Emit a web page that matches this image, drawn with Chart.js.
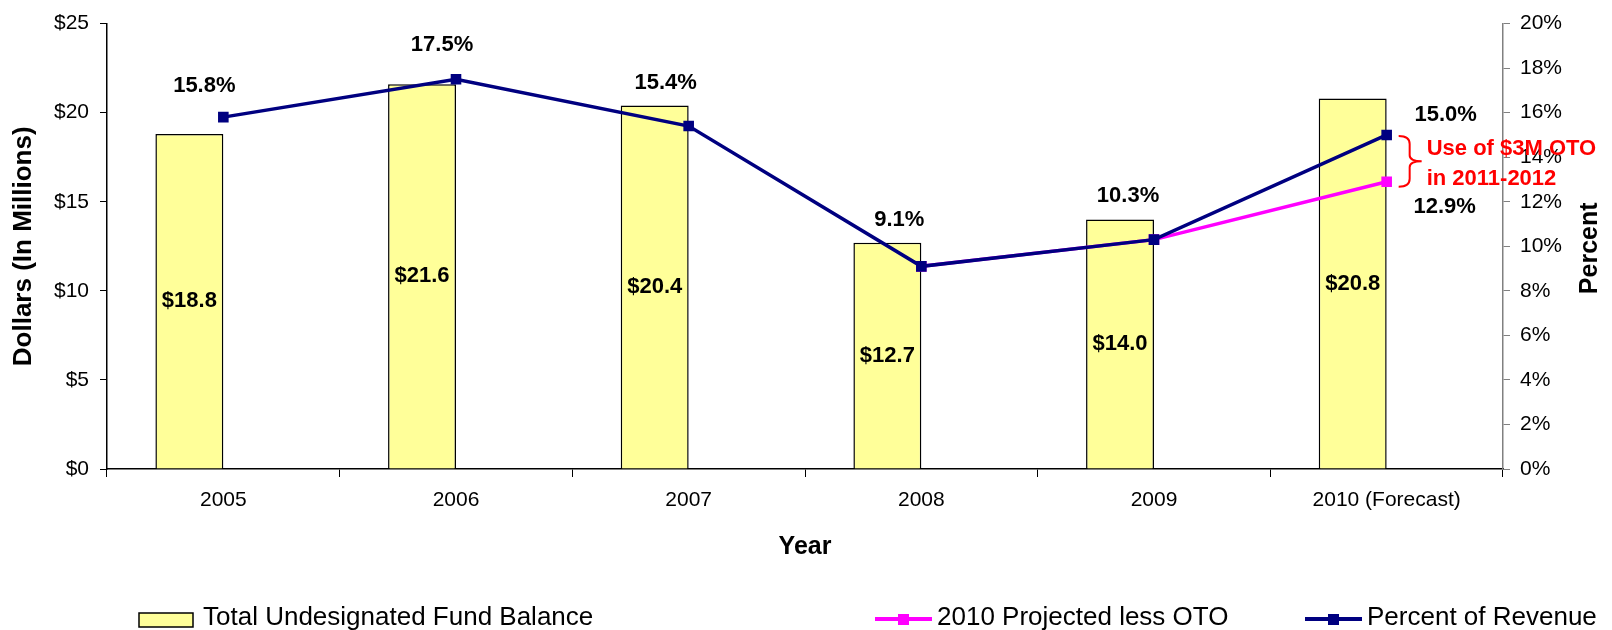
<!DOCTYPE html>
<html lang="en">

<head>
    <meta charset="UTF-8">
    <script src="https://cdn.jsdelivr.net/npm/chart.js"></script>
    <title>Undesignated Fund Balance</title>
    <style>
        body {
            margin: 0;
            background-color: #FFFFFF;
        }

        .chart-container {
            width: 1612px;
            height: 630px;
            position: relative;
        }
    </style>
</head>

<body>
    <div class="chart-container">
        <canvas id="chart_fund"></canvas>
    </div>
    <script>
        const years = ["2005", "2006", "2007", "2008", "2009", "2010 (Forecast)"];
        const fundBalance = [18.8, 21.6, 20.4, 12.7, 14.0, 20.8];
        const percentOfRevenue = [15.8, 17.5, 15.4, 9.1, 10.3, 15.0];
        const projectedLessOTO = [null, null, null, 9.1, 10.3, 12.9];
        const annotationLines = ["Use of $3M OTO", "in 2011-2012"];

        const FONT = "'Liberation Sans', Arial, sans-serif";
        Chart.defaults.font.family = FONT;
        Chart.defaults.color = "#000";

        // label offsets (px) from each point, null = no label
        const revenueLabelOffsets = [[-19, -31], [-14, -34], [-23, -43], [-22, -46], [-26, -44], [59, -20]];
        const projectedLabelOffsets = [null, null, null, null, null, [58, 25]];

        const extras = {
            id: "extras",
            afterDatasetsDraw(chart) {
                const ctx = chart.ctx;
                ctx.save();
                ctx.fillStyle = "#000";
                ctx.textAlign = "center";
                ctx.textBaseline = "middle";
                ctx.font = "bold 22px " + FONT;

                // dollar labels in the middle of each bar
                let barMeta = chart.getDatasetMeta(2);
                barMeta.data.forEach((bar, i) => {
                    let mid = (bar.y + bar.base) / 2;
                    ctx.fillText("$" + fundBalance[i].toFixed(1), bar.x, mid);
                });

                // percent labels
                let pairs = [[0, revenueLabelOffsets, percentOfRevenue], [1, projectedLabelOffsets, projectedLessOTO]];
                pairs.forEach(([idx, offsets, values]) => {
                    let meta = chart.getDatasetMeta(idx);
                    meta.data.forEach((pt, i) => {
                        if (!offsets[i] || values[i] === null) {
                            return;
                        }
                        ctx.fillText(values[i].toFixed(1) + "%", pt.x + offsets[i][0], pt.y + offsets[i][1]);
                    });
                });
                ctx.restore();
            },
            afterDraw(chart) {
                const ctx = chart.ctx;
                const area = chart.chartArea;
                ctx.save();

                // brace between the two 2010 points
                let last = years.length - 1;
                let top = chart.getDatasetMeta(0).data[last];
                let bottom = chart.getDatasetMeta(1).data[last];
                let bx = top.x + 12;
                let y0 = top.y + 1, y1 = bottom.y + 5, ym = (y0 + y1) / 2;
                ctx.strokeStyle = "#FF0000";
                ctx.lineWidth = 2;
                ctx.beginPath();
                ctx.moveTo(bx, y0);
                ctx.quadraticCurveTo(bx + 11, y0, bx + 11, y0 + 8);
                ctx.lineTo(bx + 11, ym - 6);
                ctx.quadraticCurveTo(bx + 11, ym, bx + 23, ym);
                ctx.quadraticCurveTo(bx + 11, ym, bx + 11, ym + 6);
                ctx.lineTo(bx + 11, y1 - 8);
                ctx.quadraticCurveTo(bx + 11, y1, bx, y1);
                ctx.stroke();

                ctx.fillStyle = "#FF0000";
                ctx.font = "bold 22px " + FONT;
                ctx.textAlign = "left";
                ctx.textBaseline = "middle";
                ctx.fillText(annotationLines[0], bx + 28, ym - 12);
                ctx.fillText(annotationLines[1], bx + 28, ym + 18);

                // right axis title, reading bottom to top
                ctx.fillStyle = "#000";
                ctx.font = "bold 25px " + FONT;
                ctx.textAlign = "center";
                ctx.translate(1590, (area.top + area.bottom) / 2 + 2);
                ctx.rotate(-Math.PI / 2);
                ctx.fillText("Percent", 0, 0);
                ctx.restore();

                // legend
                ctx.save();
                ctx.font = "26px " + FONT;
                ctx.textBaseline = "middle";
                ctx.textAlign = "left";
                ctx.fillStyle = "#FFFF99";
                ctx.fillRect(139, 613, 54, 14);
                ctx.strokeStyle = "#000";
                ctx.lineWidth = 1.5;
                ctx.strokeRect(139, 613, 54, 14);
                ctx.fillStyle = "#000";
                ctx.fillText(chart.data.datasets[2].label, 203, 618);

                let lineItems = [[1, 875], [0, 1305]];
                lineItems.forEach(([idx, x]) => {
                    let ds = chart.data.datasets[idx];
                    ctx.strokeStyle = ds.borderColor;
                    ctx.lineWidth = 4;
                    ctx.beginPath();
                    ctx.moveTo(x, 619);
                    ctx.lineTo(x + 57, 619);
                    ctx.stroke();
                    ctx.fillStyle = ds.borderColor;
                    ctx.fillRect(x + 23, 614, 11, 11);
                    ctx.fillStyle = "#000";
                    ctx.fillText(ds.label, x + 62, 618);
                });
                ctx.restore();
            }
        };

        let ctx1 = document.getElementById("chart_fund").getContext("2d");
        let chart_fund = new Chart(ctx1, {
            data: {
                labels: years,
                datasets: [{
                    type: "line",
                    label: "Percent of Revenue",
                    data: percentOfRevenue,
                    yAxisID: "y1",
                    borderColor: "#000080",
                    backgroundColor: "#000080",
                    borderWidth: 3.5,
                    pointStyle: "rect",
                    pointRadius: 7.5,
                    pointBorderWidth: 0,
                    pointBackgroundColor: "#000080",
                    order: 0
                }, {
                    type: "line",
                    label: "2010 Projected less OTO",
                    data: projectedLessOTO,
                    yAxisID: "y1",
                    borderColor: "#FF00FF",
                    backgroundColor: "#FF00FF",
                    borderWidth: 3.5,
                    pointStyle: "rect",
                    pointRadius: 7.5,
                    pointBorderWidth: 0,
                    pointBackgroundColor: "#FF00FF",
                    order: 1
                }, {
                    type: "bar",
                    label: "Total Undesignated Fund Balance",
                    data: fundBalance,
                    yAxisID: "y",
                    backgroundColor: "#FFFF99",
                    borderColor: "#000",
                    borderWidth: 1.5,
                    categoryPercentage: 0.584,
                    barPercentage: 1,
                    order: 2
                }, {
                    // empty second bar slot, pushes the real bars left of centre like the original
                    type: "bar",
                    label: "",
                    data: years.map(() => null),
                    yAxisID: "y",
                    categoryPercentage: 0.584,
                    barPercentage: 1,
                    order: 3
                }]
            },
            options: {
                responsive: true,
                maintainAspectRatio: false,
                animation: false,
                events: [],
                layout: {padding: {top: 19, bottom: 66, left: 0, right: 0}},
                plugins: {
                    legend: {display: false},
                    tooltip: {enabled: false}
                },
                scales: {
                    x: {
                        offset: true,
                        grid: {drawOnChartArea: false, tickLength: 8, color: "#000"},
                        border: {color: "#000", width: 1.5},
                        ticks: {font: {size: 21}, padding: 11, color: "#000", maxRotation: 0},
                        title: {display: true, text: "Year", font: {size: 25, weight: "bold"}, padding: {top: 0, bottom: 2}},
                        afterFit: (s) => { s.height = 95; }
                    },
                    y: {
                        position: "left",
                        min: 0,
                        max: 25,
                        ticks: {stepSize: 5, font: {size: 21}, padding: 11, color: "#000", callback: (v) => "$" + v},
                        grid: {drawOnChartArea: false, tickLength: 7, color: "#000"},
                        border: {color: "#000", width: 1.5},
                        title: {display: true, text: "Dollars (In Millions)", font: {size: 26, weight: "bold"}, padding: {top: 8, bottom: 0}},
                        afterFit: (s) => { s.width = 107; }
                    },
                    y1: {
                        position: "right",
                        min: 0,
                        max: 20,
                        ticks: {stepSize: 2, font: {size: 21}, padding: 10, color: "#000", callback: (v) => v + "%"},
                        grid: {drawOnChartArea: false, tickLength: 7, color: "#808080"},
                        border: {color: "#808080", width: 1.5},
                        afterFit: (s) => { s.width = 109; }
                    }
                }
            },
            plugins: [extras]
        });
    </script>
</body>

</html>
